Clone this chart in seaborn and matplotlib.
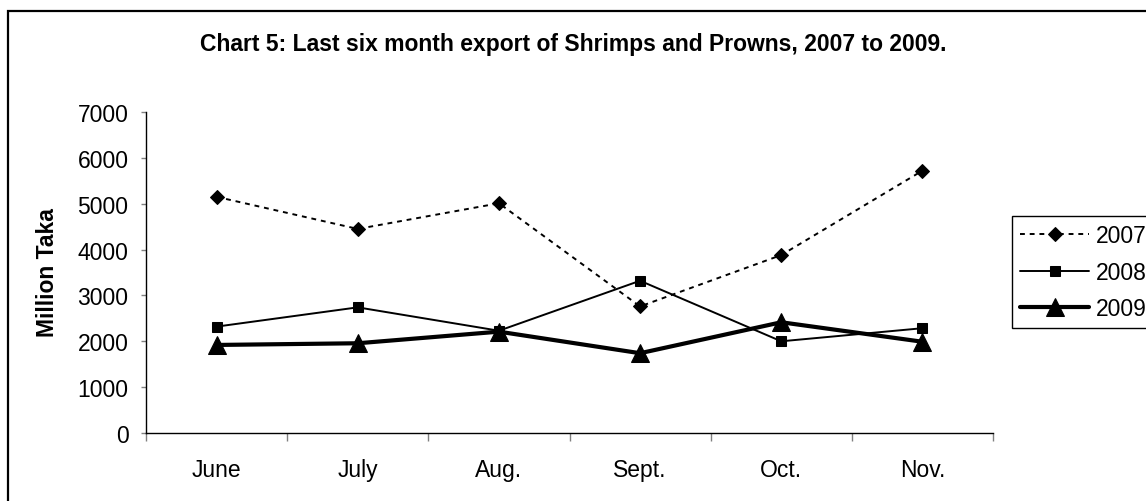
import matplotlib
matplotlib.use("Agg")
import matplotlib.pyplot as plt
import seaborn as sns
import pandas as pd
from matplotlib.patches import Rectangle
from matplotlib.ticker import FixedLocator

months = ["June", "July", "Aug.", "Sept.", "Oct.", "Nov."]
years = ["2007", "2008", "2009"]
v2007 = [5150, 4450, 5010, 2760, 3880, 5720]
v2008 = [2320, 2740, 2230, 3320, 2000, 2285]
v2009 = [1920, 1957, 2210, 1740, 2415, 1990]
yticks = [0, 1000, 2000, 3000, 4000, 5000, 6000, 7000]

sns.set_theme(style="white")
plt.rcParams['font.family'] = ['Liberation Sans', 'DejaVu Sans']
plt.rcParams['text.color'] = 'black'
plt.rcParams['xtick.color'] = 'black'
plt.rcParams['ytick.color'] = 'black'
plt.rcParams['axes.labelcolor'] = 'black'

fs = 16.5
fig = plt.figure(figsize=(11.46, 5.02), dpi=100)
W, H = 1146, 502
ax = fig.add_axes([146 / W, 1 - 434 / H, (993 - 146) / W, (434 - 113) / H])

rows = []
for y, vals in zip(years, [v2007, v2008, v2009]):
    for i, (m, v) in enumerate(zip(months, vals)):
        rows.append({"year": y, "pos": i, "month": m, "value": v})
df = pd.DataFrame(rows)

styles = {
    "2007": dict(marker="D", markersize=6.8, linewidth=1.4, linestyle=(0, (2.5, 2.5))),
    "2008": dict(marker="s", markersize=6.5, linewidth=1.4, linestyle="-"),
    "2009": dict(marker="^", markersize=13, linewidth=3.0, linestyle="-"),
}
for y in years:
    st = styles[y]
    sns.lineplot(data=df[df["year"] == y], x="pos", y="value", ax=ax, color="black",
                 marker=st["marker"], markersize=st["markersize"], linewidth=st["linewidth"],
                 linestyle=st["linestyle"], markeredgecolor="black", markerfacecolor="black",
                 label=y, legend=False)

ax.set_xlim(-0.5, len(months) - 0.5)
ax.set_ylim(0, 7000)
ax.set_xlabel("")
ax.set_ylabel("")
ax.set_yticks(yticks)
ax.set_yticklabels([str(t) for t in yticks], fontsize=fs)
ax.xaxis.set_major_locator(FixedLocator([i - 0.5 for i in range(len(months) + 1)]))
ax.xaxis.set_minor_locator(FixedLocator(list(range(len(months)))))
ax.set_xticklabels([""] * (len(months) + 1))
ax.set_xticklabels(months, minor=True, fontsize=fs)
ax.tick_params(axis="x", which="major", direction="out", length=6, width=1, color="#808080", bottom=True)
ax.tick_params(axis="x", which="minor", length=0, pad=18, bottom=True)
ax.tick_params(axis="y", which="major", direction="out", length=3.6, width=1, color="#808080", pad=9, left=True)
for s in ["top", "right"]:
    ax.spines[s].set_visible(False)
for s in ["left", "bottom"]:
    ax.spines[s].set_color("black")
    ax.spines[s].set_linewidth(1.0)
ax.grid(False)

fig.text(0.5, 1 - 45 / H, "Chart 5: Last six month export of Shrimps and Prowns, 2007 to 2009.",
         ha="center", va="center", fontsize=fs, fontweight="bold")
fig.text(47 / W, 1 - 273 / H, "Million Taka", rotation=90, ha="center", va="center",
         fontsize=fs, fontweight="bold")

handles, labels = ax.get_legend_handles_labels()
leg = fig.legend(handles, labels, loc="upper left", bbox_to_anchor=(1012 / W, 1 - 217 / H),
                 borderaxespad=0, frameon=True, fancybox=False, framealpha=1, edgecolor="black",
                 fontsize=fs, handlelength=3.0, handletextpad=0.3, borderpad=0.37,
                 labelspacing=0.57)
leg.get_frame().set_linewidth(1.0)

fig.patches.append(Rectangle((8 / W, -0.1), 1.2, 1.1 - 12 / H, transform=fig.transFigure,
                             fill=False, edgecolor="black", linewidth=1.6))

fig.savefig("out.png", dpi=100)
